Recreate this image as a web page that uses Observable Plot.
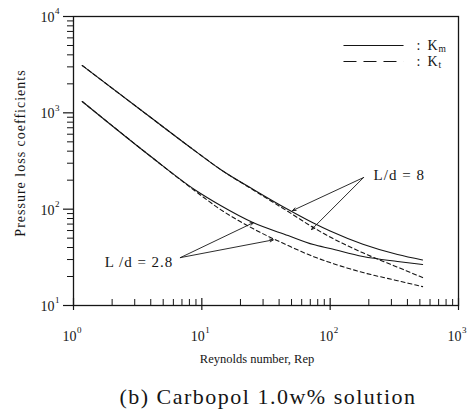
<!DOCTYPE html>
<html>
<head>
<meta charset="utf-8">
<script src="https://cdn.jsdelivr.net/npm/d3@7"></script>
<script src="https://cdn.jsdelivr.net/npm/@observablehq/plot@0.6"></script>
<style>
  body { margin: 0; background: #fff; }
  #wrap { position: relative; width: 476px; height: 414px; overflow: hidden; background: #fff;
          font-family: "Liberation Serif", "DejaVu Serif", serif; }
  #chart { position: absolute; left: 0; top: 0; }
  #cap { position: absolute; left: 30px; top: 384px; width: 476px; text-align: center;
         font-size: 22px; line-height: 26px; letter-spacing: 1.5px; color: #151515; }
</style>
</head>
<body>
<div id="wrap">
  <div id="chart"></div>
  <div id="cap">(b) Carbopol 1.0w% solution</div>
</div>
<script>
// ---- data ----
const reynolds = [1.17, 4, 9, 14, 25, 47, 74, 100, 180, 335, 525];
const kmLd8    = [3100, 894, 396, 258, 161, 99, 71.7, 59.2, 43.2, 33.8, 29.7];
const ktLd8    = [3100, 894, 396, 258, 159, 94.4, 64.4, 51.3, 35.2, 25.0, 19.5];
const kmLd28   = [1310, 352, 156, 109, 72.6, 53.2, 42.9, 39.0, 32.2, 28.6, 26.6];
const ktLd28   = [1310, 352, 152, 99.0, 62.9, 41.9, 32.2, 27.9, 22.0, 18.1, 15.7];

const xDecades = [1, 10, 100, 1000];
const xExponents = ["0", "1", "2", "3"];
const yDecades = [10, 100, 1000, 10000];
const yExponents = ["1", "2", "3", "4"];
const xMinor = [2,3,4,5,6,7,8,9,20,30,40,50,60,70,80,90,200,300,400,500,600,700,800,900];
const yMinor = [20,30,40,50,60,70,80,90,200,300,400,500,600,700,800,900,2000,3000,4000,5000,6000,7000,8000,9000];

// annotations (data coordinates)
const label8  = {text: "L/d = 8",    re: 218, k: 223};
const label28 = {text: "L /d = 2.8", re: 6.0, k: 27.9};
const ldArrows = [
  {x1: 182, y1: 213, x2: 50.9, y2: 96.7},
  {x1: 182, y1: 213, x2: 71.6, y2: 61.4},
  {x1: 6.8, y1: 31.4, x2: 25.3, y2: 72.6},
  {x1: 6.8, y1: 31.4, x2: 36,   y2: 48}
];
const legendKm = {sub: "m", k: 5000};
const legendKt = {sub: "t", k: 3410};
const legendLineFrom = 127, legendLineTo = 373, legendTextAt = 471;

// ---- build rows ----
const seriesList = [
  {id: "Km, L/d=8",   values: kmLd8,  dashed: false},
  {id: "Kt, L/d=8",   values: ktLd8,  dashed: true},
  {id: "Km, L/d=2.8", values: kmLd28, dashed: false},
  {id: "Kt, L/d=2.8", values: ktLd28, dashed: true}
];
const rows = seriesList.flatMap(s => reynolds.map((re, i) => ({re, k: s.values[i], id: s.id, dashed: s.dashed})));
const ink = "#151515";
const serif = "Liberation Serif, DejaVu Serif, serif";

const chart = Plot.plot({
  width: 476, height: 376,
  marginLeft: 73, marginRight: 18, marginTop: 16, marginBottom: 71,
  x: {type: "log", domain: [1, 1000], axis: null},
  y: {type: "log", domain: [10, 10000], axis: null},
  style: {fontFamily: serif, fontSize: "13px", color: ink, background: "#fff"},
  marks: [
    Plot.frame({stroke: ink, strokeWidth: 1.3}),
    // x ticks (pointing up into the frame)
    Plot.ruleX(xMinor, {x: d => d, y1: 10, y2: 10, insetBottom: 6, stroke: ink, strokeWidth: 1}),
    Plot.ruleX(xDecades, {x: d => d, y1: 10, y2: 10, insetTop: 5, insetBottom: 7, stroke: ink, strokeWidth: 1.2}),
    // y ticks (pointing out to the left)
    Plot.ruleY(yMinor, {y: d => d, x1: 1, x2: 1, insetRight: 6, stroke: ink, strokeWidth: 1}),
    Plot.ruleY(yDecades, {y: d => d, x1: 1, x2: 1, insetRight: 10, stroke: ink, strokeWidth: 1.2}),
    // tick labels 10^n
    Plot.text(xDecades, {x: d => d, y: () => 10, text: () => "10", textAnchor: "end", dx: 3, dy: 31, fontSize: 14, fill: ink}),
    Plot.text(xDecades, {x: d => d, y: () => 10, text: (d, i) => xExponents[i], textAnchor: "start", dx: 3.5, dy: 25, fontSize: 9, fill: ink}),
    Plot.text(yDecades, {x: () => 1, y: d => d, text: () => "10", textAnchor: "end", dx: -19, dy: 1, fontSize: 14, fill: ink}),
    Plot.text(yDecades, {x: () => 1, y: d => d, text: (d, i) => yExponents[i], textAnchor: "start", dx: -18.5, dy: -5, fontSize: 9, fill: ink}),
    // axis titles
    Plot.text(["Reynolds number, Rep"], {frameAnchor: "bottom", dx: -9, dy: 57, fontSize: 12.5, fill: ink}),
    Plot.text(["Pressure loss coefficients"], {frameAnchor: "left", textAnchor: "middle", dx: -53, dy: -8, rotate: -90, fontSize: 14, fill: ink}),
    // curves
    Plot.line(rows.filter(d => !d.dashed), {x: "re", y: "k", z: "id", stroke: ink, strokeWidth: 1.1, curve: "monotone-x"}),
    Plot.line(rows.filter(d => d.dashed), {x: "re", y: "k", z: "id", stroke: ink, strokeWidth: 1.1, strokeDasharray: "4,3", curve: "monotone-x"}),
    // annotations
    Plot.arrow(ldArrows, {x1: "x1", y1: "y1", x2: "x2", y2: "y2", stroke: ink, strokeWidth: 0.9, headLength: 6, headAngle: 45}),
    Plot.text([label8], {x: "re", y: "k", text: "text", textAnchor: "start", fontSize: 15, fill: ink}),
    Plot.text([label28], {x: "re", y: "k", text: "text", textAnchor: "end", fontSize: 15, fill: ink}),
    // legend
    Plot.link([legendKm], {x1: () => legendLineFrom, x2: () => legendLineTo, y1: "k", y2: "k", stroke: ink, strokeWidth: 1.1}),
    Plot.link([legendKt], {x1: () => legendLineFrom, x2: () => legendLineTo, y1: "k", y2: "k", stroke: ink, strokeWidth: 1.1, strokeDasharray: "13,7"}),
    Plot.text([legendKm, legendKt], {x: () => legendTextAt, y: "k", text: () => ":\u00a0\u00a0K", textAnchor: "start", fontSize: 14, fill: ink}),
    Plot.text([legendKm, legendKt], {x: () => legendTextAt, y: "k", text: "sub", textAnchor: "start", dx: 22, dy: 3, fontSize: 9.5, fill: ink})
  ]
});
// letter spacing of some labels (styling only)
d3.select(chart).selectAll("text").filter(function() { return this.textContent === "Pressure loss coefficients"; })
  .attr("letter-spacing", "1px");
d3.select(chart).selectAll("text").filter(function() { return this.textContent === "L/d = 8" || this.textContent === "L /d = 2.8"; })
  .attr("letter-spacing", "1px");
document.getElementById("chart").appendChild(chart);
</script>
</body>
</html>
